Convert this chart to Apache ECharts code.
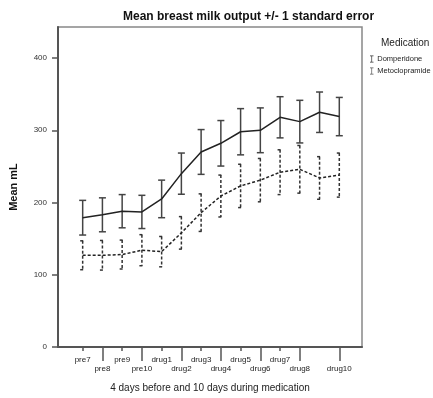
<!DOCTYPE html>
<html>
<head>
<meta charset="utf-8">
<script src="https://cdn.jsdelivr.net/npm/echarts@6/dist/echarts.min.js"></script>
<style>
  html, body { margin: 0; padding: 0; background: #fff; }
  #chart { width: 433px; height: 398px; }
</style>
</head>
<body>
<div id="chart"></div>
<script>
// days: 4 before, 10 during medication
const days = ['pre7', 'pre8', 'pre9', 'pre10', 'drug1', 'drug2', 'drug3', 'drug4', 'drug5', 'drug6', 'drug7', 'drug8', 'drug9', 'drug10'];
// Domperidone mean mL and standard error
const domMean = [179, 183, 188, 187, 205, 240, 270, 282, 298, 300, 318, 312, 325, 319];
const domSE = [24, 23.5, 23, 23, 26, 28.5, 31, 31.5, 32, 31, 28.5, 29.5, 28, 26.5];
// Metoclopramide mean mL and standard error
const metMean = [127, 127, 128, 134, 132, 158, 186, 209, 223, 231, 242, 246, 234, 238];
const metSE = [20, 20.5, 20, 21.5, 21, 22.5, 26, 29, 30, 30, 31, 33, 29.5, 30.5];
const yTicks = [0, 100, 200, 300, 400];

const chart = echarts.init(document.getElementById('chart'));
const idx = days.map((d, i) => i);
const oddIdx = idx.filter(i => i % 2 === 1);
const FONT = 'Liberation Sans, Arial, sans-serif';

// error bar renderer, caps + vertical line
function errorBar(color, dashed, capHalf) {
  return function (params, api) {
    const x = api.value(0);
    const lo = api.coord([x, api.value(1)]);
    const hi = api.coord([x, api.value(2)]);
    const style = { stroke: color, lineWidth: 1.5, lineDash: dashed ? [3, 2] : null };
    return {
      type: 'group',
      children: [
        { type: 'line', shape: { x1: hi[0], y1: hi[1], x2: lo[0], y2: lo[1] }, style: style },
        { type: 'line', shape: { x1: hi[0] - capHalf, y1: hi[1], x2: hi[0] + capHalf, y2: hi[1] }, style: style },
        { type: 'line', shape: { x1: lo[0] - capHalf, y1: lo[1], x2: lo[0] + capHalf, y2: lo[1] }, style: style }
      ]
    };
  };
}

const option = {
  animation: false,
  backgroundColor: '#fff',
  textStyle: { fontFamily: FONT },
  title: [
    {
      text: 'Mean breast milk output +/- 1 standard error',
      left: 118,
      top: 6,
      textStyle: { fontSize: 12, fontWeight: 'bold', color: '#111', fontFamily: FONT }
    },
    {
      text: 'Medication',
      left: 376,
      top: 33,
      textStyle: { fontSize: 10, fontWeight: 'normal', color: '#222', fontFamily: FONT }
    }
  ],
  legend: {
    orient: 'vertical',
    left: 370,
    top: 55,
    padding: 0,
    itemWidth: 5,
    itemHeight: 7,
    itemGap: 4,
    icon: 'path://M0,0H5V1H3V9H5V10H0V9H2V1H0Z',
    data: ['Domperidone', 'Metoclopramide'],
    textStyle: { fontSize: 7.5, color: '#222', fontFamily: FONT, padding: [0, 0, 0, -2] }
  },
  grid: {
    left: 54,
    top: 27,
    width: 308,
    height: 326,
    show: true,
    borderColor: '#888',
    borderWidth: 1.5
  },
  xAxis: [
    {
      type: 'value',
      min: -1.25,
      max: 14.15,
      name: '4 days before and 10 days during medication',
      nameLocation: 'middle',
      nameGap: 36,
      nameTextStyle: { fontSize: 10, color: '#222', fontFamily: FONT },
      axisLine: { show: true, onZero: false, lineStyle: { color: '#555', width: 2 } },
      axisTick: { show: true, length: 4, customValues: idx, lineStyle: { color: '#555', width: 1.5 } },
      axisLabel: {
        customValues: idx,
        showMinLabel: true,
        showMaxLabel: true,
        margin: 8,
        fontSize: 8,
        lineHeight: 9,
        color: '#222',
        formatter: v => {
          const i = Math.round(v);
          return i % 2 ? '\n' + days[i] : days[i];
        }
      },
      splitLine: { show: false }
    },
    {
      type: 'value',
      min: -1.25,
      max: 14.15,
      position: 'bottom',
      axisLine: { show: false },
      axisTick: { show: true, length: 14, customValues: oddIdx, lineStyle: { color: '#555', width: 1.5 } },
      axisLabel: { show: false },
      splitLine: { show: false }
    }
  ],
  yAxis: {
    type: 'value',
    min: 0,
    max: 443,
    name: 'Mean mL',
    nameLocation: 'middle',
    nameGap: 39,
    nameTextStyle: { fontSize: 11, fontWeight: 'bold', color: '#111', fontFamily: FONT },
    axisLine: { show: true, onZero: false, lineStyle: { color: '#555', width: 2 } },
    axisTick: { show: true, length: 6, customValues: yTicks, lineStyle: { color: '#555', width: 1.5 } },
    axisLabel: { customValues: yTicks, fontSize: 8, color: '#333', margin: 11 },
    splitLine: { show: false }
  },
  series: [
    {
      name: 'Domperidone',
      type: 'line',
      data: domMean.map((v, i) => [i, v]),
      symbol: 'none',
      itemStyle: { color: '#333' },
      lineStyle: { color: '#222', width: 1.5 },
      z: 3
    },
    {
      name: 'Metoclopramide',
      type: 'line',
      data: metMean.map((v, i) => [i, v]),
      symbol: 'none',
      itemStyle: { color: '#555' },
      lineStyle: { color: '#222', width: 1.5, type: [3, 2] },
      z: 3
    },
    {
      name: 'Domperidone SE',
      type: 'custom',
      renderItem: errorBar('#444', false, 3.5),
      data: domMean.map((v, i) => [i, v - domSE[i], v + domSE[i]]),
      encode: { x: 0, y: [1, 2] },
      z: 2
    },
    {
      name: 'Metoclopramide SE',
      type: 'custom',
      renderItem: errorBar('#333', true, 2.5),
      data: metMean.map((v, i) => [i, v - metSE[i], v + metSE[i]]),
      encode: { x: 0, y: [1, 2] },
      z: 2
    }
  ]
};

chart.setOption(option);
</script>
</body>
</html>
